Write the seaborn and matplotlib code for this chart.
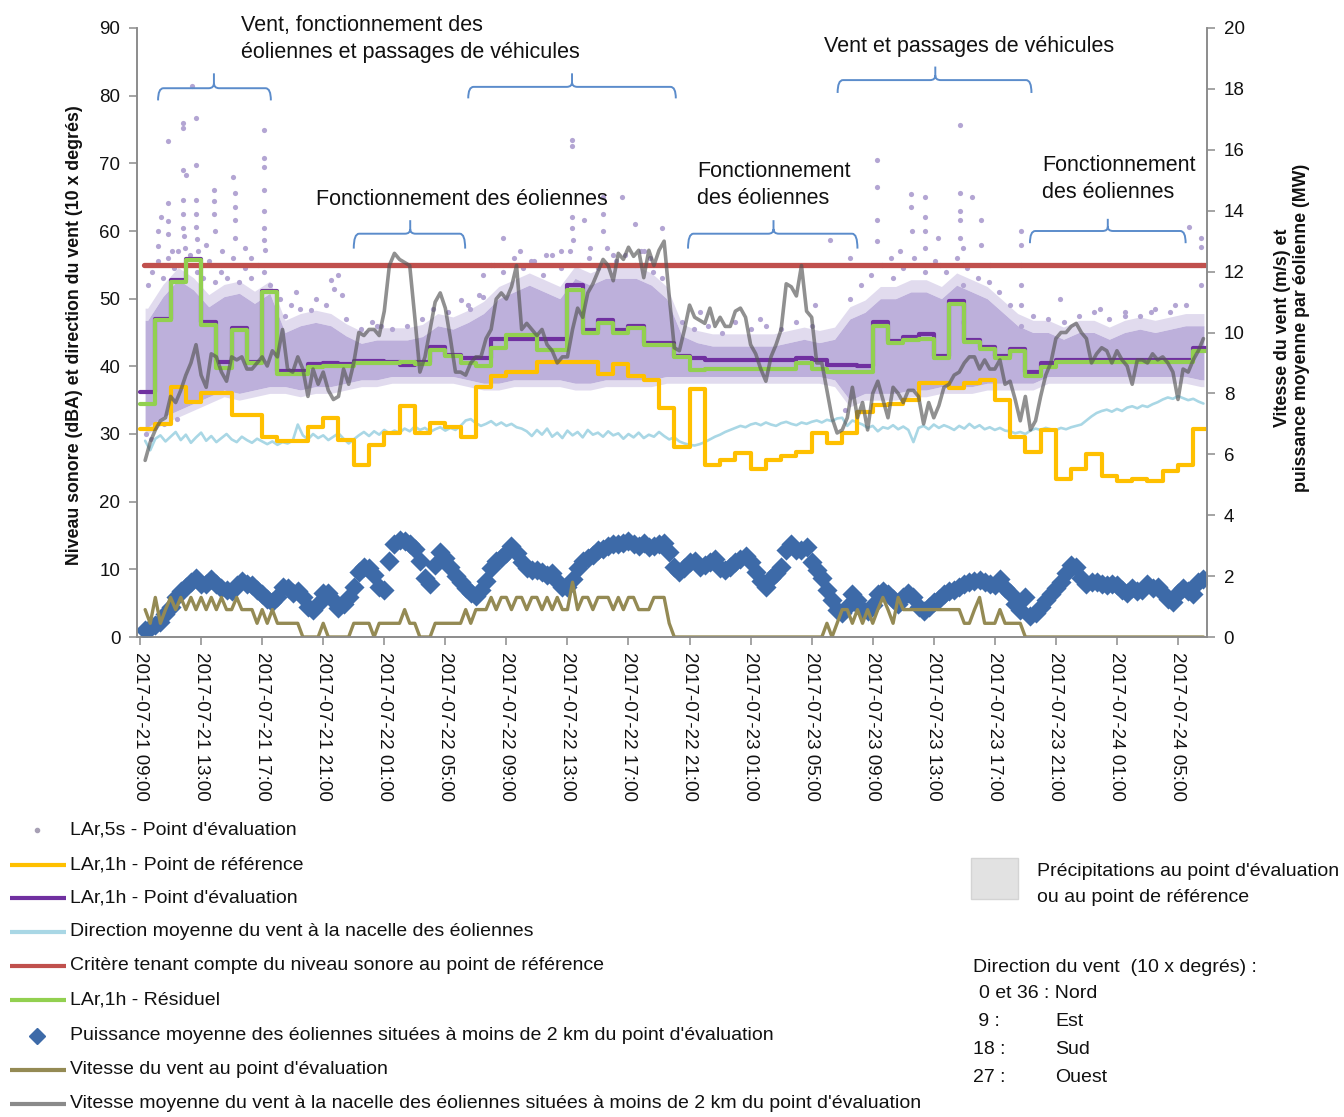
import numpy as np
import pandas as pd
import matplotlib
matplotlib.use("Agg")
import matplotlib.pyplot as plt
import matplotlib.dates as mdates
from matplotlib.path import Path
from matplotlib.patches import PathPatch, Rectangle
import seaborn as sns

sns.set_theme(style="ticks")
plt.rcParams["font.family"] = ["Liberation Sans", "DejaVu Sans"]

START = pd.Timestamp("2017-07-21 09:00")

# ---------------------------------------------------------------- hourly data
lar_ref_1h = [
    30.7, 31.5, 37.0, 34.8, 36.0, 36.0, 32.8, 32.8, 29.6, 28.9,
    28.9, 31.1, 32.3, 29.1, 25.4, 28.4, 30.1, 34.1, 30.1, 31.6,
    31.1, 29.6, 37.0, 38.5, 39.2, 39.2, 40.7, 40.7, 40.7, 40.7,
    38.8, 40.4, 38.5, 38.0, 33.8, 28.1, 36.6, 25.4, 26.2, 27.2,
    24.9, 26.2, 26.7, 27.4, 30.1, 28.6, 30.2, 33.2, 34.3, 34.5,
    35.0, 37.6, 37.6, 36.8, 37.6, 38.0, 35.0, 29.6, 27.4, 30.6,
    23.3, 24.8, 27.0, 23.8, 23.0, 23.3, 23.0, 24.6, 25.4, 30.8,
]
lar_eval_1h = [
    36.2, 47.0, 52.7, 55.8, 46.6, 40.6, 45.6, 40.6, 51.2, 39.3,
    39.3, 40.4, 40.5, 40.4, 40.8, 40.8, 40.7, 40.2, 40.7, 42.8,
    41.7, 41.2, 41.2, 44.1, 44.1, 44.1, 44.1, 44.1, 52.0, 45.4,
    46.9, 45.4, 46.0, 43.4, 43.4, 41.5, 41.2, 41.0, 41.0, 41.0,
    41.0, 41.0, 41.0, 41.2, 41.0, 40.2, 40.2, 40.0, 46.6, 43.7,
    44.4, 44.8, 41.5, 49.6, 43.9, 42.9, 41.5, 42.5, 39.2, 40.5,
    41.0, 41.0, 41.0, 41.0, 41.0, 41.0, 41.0, 41.0, 41.0, 42.7,
]
lar_resid_1h = [
    34.5, 46.8, 52.5, 55.7, 46.1, 39.7, 45.4, 40.5, 51.0, 38.8,
    38.8, 39.9, 40.0, 40.0, 40.5, 40.5, 40.5, 40.7, 40.4, 42.4,
    41.5, 40.5, 40.0, 42.7, 44.6, 44.6, 42.4, 42.4, 51.3, 44.9,
    46.4, 44.9, 45.6, 43.2, 43.2, 41.4, 39.5, 39.6, 39.6, 39.6,
    39.6, 39.6, 39.6, 40.5, 39.6, 39.2, 39.2, 39.2, 45.9, 43.4,
    43.9, 44.0, 41.2, 49.2, 43.6, 42.6, 41.2, 42.2, 38.5, 39.9,
    40.7, 40.7, 40.7, 40.7, 40.7, 40.7, 40.7, 40.7, 40.7, 42.2,
]
# spread of the 5-s samples around each hour (dense core of the cloud)
core_5s_low = [
    31.0, 32.5, 33.5, 34.5, 35.5, 36.5, 36.0, 36.5, 37.0, 37.0,
    36.5, 37.0, 37.0, 37.5, 38.0, 38.0, 38.5, 38.5, 38.5, 38.5,
    38.5, 38.0, 37.5, 37.5, 38.0, 38.0, 38.0, 38.0, 37.5, 37.5,
    38.0, 38.0, 38.0, 38.0, 38.5, 38.5, 38.5, 38.5, 38.5, 38.5,
    38.5, 38.5, 38.5, 38.5, 38.5, 38.0, 35.0, 36.0, 36.0, 36.0,
    36.5, 36.5, 37.0, 37.0, 37.0, 37.5, 37.5, 37.5, 37.5, 38.5,
    38.5, 38.5, 38.5, 38.5, 38.5, 38.5, 38.5, 38.5, 38.5, 38.0,
]
core_5s_high = [
    46.8, 50.3, 52.8, 51.3, 48.8, 50.3, 50.8, 49.3, 50.8, 45.0,
    46.0, 46.5, 46.0, 44.5, 43.4, 43.9, 43.9, 43.9, 44.4, 46.0,
    45.5, 46.5, 47.8, 50.0, 51.0, 52.0, 51.0, 50.0, 53.0, 52.0,
    53.0, 53.0, 53.0, 52.0, 50.0, 44.5, 43.5, 43.0, 43.0, 43.0,
    43.0, 43.0, 43.5, 44.0, 43.5, 44.0, 47.0, 48.0, 50.0, 50.0,
    51.0, 51.0, 50.0, 52.0, 51.0, 50.0, 48.0, 46.0, 45.0, 45.0,
    44.0, 45.0, 45.0, 44.0, 45.0, 45.5, 45.0, 45.5, 46.0, 46.0,
]
criterion_dba = 55.0

# ------------------------------------------- 20-minute data (first at 09:20)
wind_dir_10deg = [
    29.0, 27.6, 29.3, 29.8, 28.9, 29.6, 30.3, 29.1, 29.9, 28.7,
    29.5, 30.2, 29.0, 29.7, 28.8, 29.4, 30.0, 29.2, 28.8, 29.6,
    29.1, 28.7, 29.3, 28.9, 28.5, 28.9, 28.4, 28.8, 28.6, 29.0,
    31.4, 29.8, 29.2, 30.0, 29.4, 29.8, 29.1, 29.6, 30.1, 29.3,
    28.6, 29.2, 29.8, 30.3, 29.7, 30.4, 29.9, 30.6, 30.1, 30.5,
    30.2, 30.8, 30.4, 31.1, 30.6, 30.9, 30.3, 30.7, 31.0, 30.5,
    30.9, 30.6, 31.2, 32.0, 32.2, 31.6, 31.2, 31.5, 31.9, 31.3,
    31.7, 31.2, 31.5, 31.0, 30.8, 30.4, 29.7, 30.6, 29.9, 30.8,
    29.6, 30.2, 29.4, 30.5, 29.8, 30.3, 29.5, 30.6, 29.9, 30.2,
    29.6, 30.4, 29.8, 30.1, 29.3, 30.0, 29.5, 30.2, 29.4, 29.9,
    29.6, 30.3, 29.7, 29.2, 29.5, 28.9, 28.6, 28.4, 28.3, 28.5,
    28.8, 29.2, 29.6, 29.9, 30.3, 30.6, 30.9, 31.2, 31.0, 31.4,
    31.6, 31.3, 31.7, 31.4, 31.2, 31.6, 31.8, 31.5, 31.3, 31.7,
    31.5, 31.8, 32.0, 31.7, 32.1, 31.9, 32.3, 32.4, 31.2, 32.0,
    31.7, 31.4, 30.9, 31.2, 30.4, 31.0, 30.8, 31.3, 30.7, 31.1,
    30.6, 28.8, 30.9, 31.2, 30.7, 31.4, 30.9, 31.3, 31.0, 30.6,
    31.2, 30.8, 31.5, 30.9, 31.3, 30.7, 31.0, 30.6, 30.9, 30.5,
    30.4, 30.1, 30.3, 30.0, 30.5, 30.8, 30.6, 30.9, 30.7, 30.6,
    30.9, 30.7, 31.0, 31.2, 31.4, 32.0, 32.6, 33.1, 33.4, 33.6,
    33.3, 33.7, 33.4, 33.9, 34.1, 33.8, 34.2, 34.0, 34.4, 34.7,
    35.1, 35.4, 35.2, 35.6, 35.3, 35.0, 35.2, 34.8, 34.5,
]
power_mw = [
    0.22, 0.30, 0.40, 0.50, 0.75, 1.00, 1.30, 1.50, 1.65, 1.80,
    1.95, 1.75, 1.75, 1.90, 1.75, 1.60, 1.55, 1.50, 1.70, 1.85,
    1.75, 1.70, 1.55, 1.40, 1.25, 1.15, 1.30, 1.65, 1.60, 1.45,
    1.50, 1.30, 1.00, 0.90, 1.10, 1.45, 1.45, 1.20, 0.95, 1.10,
    1.30, 1.65, 2.15, 2.30, 2.25, 2.05, 1.65, 1.55, 2.50, 3.05,
    3.20, 3.15, 3.05, 2.90, 2.50, 1.95, 1.75, 2.35, 2.80, 2.60,
    2.30, 2.00, 1.80, 1.60, 1.45, 1.35, 1.55, 1.85, 2.25, 2.50,
    2.60, 2.75, 3.00, 2.75, 2.45, 2.25, 2.20, 2.20, 2.15, 2.05,
    2.10, 1.85, 1.65, 1.65, 1.90, 2.25, 2.50, 2.60, 2.70, 2.85,
    2.90, 3.00, 3.05, 3.05, 3.10, 3.15, 3.05, 3.00, 3.10, 2.95,
    3.00, 3.05, 3.10, 2.80, 2.30, 2.15, 2.25, 2.45, 2.50, 2.30,
    2.35, 2.45, 2.55, 2.25, 2.20, 2.30, 2.45, 2.55, 2.65, 2.45,
    2.15, 1.85, 1.65, 1.95, 2.10, 2.30, 2.85, 3.05, 2.85, 2.85,
    2.95, 2.45, 2.20, 1.95, 1.55, 1.20, 0.90, 0.80, 1.00, 1.40,
    1.20, 0.90, 0.85, 1.05, 1.40, 1.50, 1.40, 1.25, 1.10, 1.30,
    1.45, 1.30, 1.00, 0.85, 1.00, 1.15, 1.25, 1.40, 1.50, 1.55,
    1.65, 1.75, 1.80, 1.85, 1.87, 1.80, 1.75, 1.70, 1.90, 1.60,
    1.45, 1.10, 0.90, 1.30, 0.70, 0.80, 1.00, 1.20, 1.40, 1.60,
    1.80, 2.10, 2.35, 2.30, 1.95, 1.75, 1.80, 1.80, 1.75, 1.70,
    1.75, 1.70, 1.55, 1.45, 1.60, 1.50, 1.55, 1.75, 1.60, 1.65,
    1.45, 1.25, 1.15, 1.45, 1.60, 1.50, 1.40, 1.80, 1.90,
]
wind_eval_ms = [
    0.9, 0.45, 1.3, 0.45, 0.9, 1.3, 0.9, 1.3, 0.9, 1.3,
    0.9, 1.3, 0.9, 1.3, 0.9, 1.3, 0.9, 0.9, 1.3, 0.9,
    0.9, 0.9, 0.45, 0.9, 0.45, 0.9, 0.45, 0.45, 0.45, 0.45,
    0.45, 0.0, 0.0, 0.0, 0.0, 0.45, 0.0, 0.0, 0.0, 0.0,
    0.0, 0.45, 0.45, 0.45, 0.45, 0.0, 0.45, 0.45, 0.45, 0.45,
    0.45, 0.9, 0.45, 0.45, 0.0, 0.0, 0.0, 0.45, 0.45, 0.45,
    0.45, 0.45, 0.45, 0.9, 0.45, 0.9, 0.9, 0.9, 1.3, 0.9,
    1.3, 1.3, 0.9, 1.3, 1.3, 0.9, 1.3, 1.3, 0.9, 1.3,
    0.9, 1.3, 0.9, 0.9, 1.8, 0.9, 1.3, 1.3, 0.9, 1.3,
    1.3, 1.3, 0.9, 1.3, 0.9, 1.3, 1.3, 0.9, 0.9, 0.9,
    1.3, 1.3, 1.3, 0.45, 0.0, 0.0, 0.0, 0.0, 0.0, 0.0,
    0.0, 0.0, 0.0, 0.0, 0.0, 0.0, 0.0, 0.0, 0.0, 0.0,
    0.0, 0.0, 0.0, 0.0, 0.0, 0.0, 0.0, 0.0, 0.0, 0.0,
    0.0, 0.0, 0.0, 0.0, 0.45, 0.0, 0.45, 0.9, 0.9, 0.45,
    0.9, 0.45, 0.9, 0.45, 0.9, 1.3, 0.9, 0.45, 1.3, 0.9,
    0.9, 0.9, 0.9, 0.9, 0.9, 0.9, 0.9, 0.9, 0.9, 0.9,
    0.9, 0.45, 0.45, 0.9, 1.3, 0.45, 0.45, 0.45, 0.9, 0.45,
    0.45, 0.45, 0.45, 0.0, 0.0, 0.0, 0.0, 0.0, 0.0, 0.0,
    0.0, 0.0, 0.0, 0.0, 0.0, 0.0, 0.0, 0.0, 0.0, 0.0,
    0.0, 0.0, 0.0, 0.0, 0.0, 0.0, 0.0, 0.0, 0.0, 0.0,
    0.0, 0.0, 0.0, 0.0, 0.0, 0.0, 0.0, 0.0, 0.0,
]
wind_nacelle_ms = [
    5.8, 6.4, 6.8, 7.1, 7.2, 7.9, 7.7, 8.1, 8.6, 9.0,
    9.6, 8.6, 8.2, 9.3, 9.2, 8.7, 8.4, 9.2, 9.1, 9.2,
    8.8, 8.8, 9.0, 9.2, 8.9, 9.4, 9.2, 10.1, 8.8, 8.7,
    9.2, 8.8, 7.9, 8.8, 8.3, 8.7, 8.1, 7.8, 7.9, 8.8,
    8.3, 9.0, 10.0, 9.9, 10.1, 10.1, 9.9, 10.7, 12.2, 12.6,
    12.4, 12.3, 12.2, 10.5, 8.7, 9.2, 10.1, 11.0, 11.3, 10.8,
    9.8, 8.7, 8.7, 8.6, 9.0, 9.2, 9.2, 9.8, 10.1, 11.1,
    11.3, 11.1, 11.5, 12.2, 10.1, 10.3, 10.1, 9.9, 10.1, 9.6,
    9.4, 9.0, 9.2, 9.2, 10.1, 10.8, 10.5, 11.3, 11.6, 12.0,
    12.4, 12.2, 11.7, 12.6, 12.4, 12.8, 12.5, 12.7, 11.8, 12.7,
    12.2, 12.7, 13.0, 11.2, 9.5, 9.4, 10.1, 10.9, 10.5, 10.4,
    10.3, 10.8, 10.2, 10.5, 10.2, 10.2, 10.7, 10.8, 10.5, 9.6,
    9.3, 8.8, 8.4, 9.2, 9.6, 10.1, 11.6, 11.5, 11.2, 12.2,
    10.7, 10.5, 9.0, 9.0, 8.1, 7.2, 6.7, 6.8, 7.2, 8.2,
    7.2, 7.7, 6.8, 8.0, 8.4, 7.8, 7.2, 8.2, 8.0, 7.7,
    8.1, 8.1, 7.9, 7.0, 7.7, 7.2, 7.6, 8.2, 8.3, 8.6,
    8.7, 9.0, 9.2, 9.2, 8.8, 9.1, 8.8, 8.8, 9.1, 8.3,
    8.4, 7.8, 7.1, 7.9, 6.8, 7.1, 7.9, 8.6, 9.0, 9.8,
    10.0, 10.0, 10.2, 10.3, 10.0, 9.8, 9.0, 9.3, 9.5, 9.4,
    9.0, 9.4, 9.1, 8.9, 8.3, 9.1, 9.1, 9.0, 9.3, 9.1,
    9.2, 9.0, 8.7, 7.8, 8.8, 8.7, 9.1, 9.4, 9.8,
]

# isolated 5-s samples (hours after 09:00 on 21 July, dBA)
isolated_5s = [
    (3.4, 81.4), (1.83, 73.3), (2.81, 76.0), (2.81, 75.2), (3.66, 76.7), (8.1, 74.9),
    (8.1, 70.8), (8.1, 69.5), (8.1, 66.0), (8.1, 63.0), (8.1, 60.5), (8.15, 58.7), (8.2, 57.2),
    (2.81, 69.0), (3.0, 68.3), (2.81, 64.6), (2.81, 62.5), (2.81, 60.5), (2.9, 59.2), (2.95, 57.5),
    (3.66, 69.7), (3.66, 64.6), (3.66, 62.5), (3.66, 60.6), (3.7, 58.8), (3.8, 57.0),
    (4.84, 66.0), (4.84, 64.5), (4.84, 62.5), (4.9, 60.0),
    (6.09, 68.0), (6.2, 65.6), (6.2, 63.5), (6.2, 61.6), (6.2, 59.0),
    (1.83, 64.1), (1.83, 61.5), (1.83, 59.5), (1.18, 57.8), (1.18, 60.0), (1.35, 62.0),
    (2.1, 57.0), (4.3, 58.0), (5.4, 57.0), (6.9, 57.5), (7.3, 56.0),
    (0.5, 52.0), (0.8, 54.0), (1.2, 55.5), (1.5, 53.0), (1.8, 56.0), (2.2, 54.5),
    (2.5, 57.0), (2.9, 55.0), (3.3, 56.5), (3.7, 54.0), (4.1, 53.0), (4.5, 55.5),
    (4.9, 52.5), (5.3, 54.0), (5.7, 53.0), (6.1, 56.0), (6.5, 52.5), (6.9, 54.5),
    (7.3, 53.0), (7.7, 55.0), (8.1, 54.0), (8.5, 52.0),
    (12.5, 52.8), (12.7, 51.5), (13.2, 50.5), (13.0, 53.5), (11.2, 48.3), (9.9, 49.0),
    (15.2, 46.5), (15.8, 46.0), (21.0, 49.8), (22.5, 50.2), (21.6, 48.5), (10.2, 51.0),
    (9.2, 50.0), (9.5, 47.5), (10.5, 48.5), (11.5, 50.0), (12.2, 49.0), (13.5, 47.0),
    (14.5, 45.5), (15.5, 46.0), (16.5, 45.5), (17.5, 46.0), (18.5, 47.0), (19.2, 48.5),
    (20.2, 48.0), (21.5, 49.0), (22.2, 50.5),
    (28.3, 73.4), (28.3, 72.5), (23.8, 59.0), (28.3, 62.0), (28.3, 60.5), (28.35, 58.7),
    (29.1, 61.6), (30.3, 65.0), (30.3, 62.5), (30.3, 60.0), (31.6, 65.0), (32.4, 61.0),
    (34.2, 60.5), (24.9, 57.0), (26.6, 56.5), (27.6, 57.0), (29.5, 57.5), (31.0, 56.5),
    (32.8, 57.0), (33.4, 56.0), (23.0, 55.0), (25.6, 55.5),
    (22.5, 53.5), (23.2, 55.0), (23.8, 54.0), (24.5, 56.0), (25.1, 54.5), (25.8, 55.5),
    (26.4, 53.5), (27.0, 56.5), (27.6, 54.5), (28.2, 57.0), (28.8, 55.0), (29.4, 56.0),
    (30.0, 54.5), (30.6, 57.5), (31.2, 55.5), (31.8, 56.5), (32.4, 55.0), (33.0, 57.0),
    (33.6, 54.0), (34.2, 53.0),
    (45.2, 58.7), (36.7, 48.0), (40.6, 47.0), (44.2, 49.0), (35.5, 46.5), (36.3, 45.5),
    (37.2, 46.0), (38.1, 45.0), (39.0, 46.5), (40.0, 45.5), (41.0, 46.0), (42.0, 45.5),
    (43.0, 46.5), (44.0, 46.0),
    (48.3, 70.5), (48.3, 66.5), (48.3, 61.6), (48.3, 58.5), (50.5, 65.5), (50.5, 63.5),
    (50.6, 60.0), (51.4, 65.0), (51.4, 62.0), (51.4, 60.0), (51.4, 57.5), (52.3, 59.0),
    (53.7, 75.7), (53.7, 65.6), (53.7, 63.0), (53.7, 61.6), (53.7, 59.0), (54.5, 65.0),
    (55.1, 61.6), (55.1, 58.0), (57.7, 60.0), (57.7, 58.0), (57.7, 55.0), (57.7, 52.0),
    (57.7, 49.0), (57.7, 46.0), (53.9, 57.5), (53.9, 55.0), (53.9, 52.0), (53.9, 49.0),
    (53.9, 46.5), (49.2, 56.0), (49.8, 57.0), (52.4, 55.0), (55.7, 55.0), (46.5, 56.0),
    (46.5, 50.0), (47.2, 52.0), (47.9, 53.5), (48.6, 55.0), (49.3, 53.0), (50.0, 54.5),
    (50.7, 56.0), (51.4, 54.0), (52.1, 55.5), (52.8, 54.0), (53.5, 56.0), (54.2, 54.5),
    (54.9, 53.0), (55.6, 52.5), (56.3, 51.0), (57.0, 49.0),
    (68.7, 60.6), (69.5, 59.0), (69.5, 57.6), (69.5, 55.0), (69.5, 52.0), (60.3, 50.0),
    (62.9, 48.5), (66.2, 48.0), (67.8, 49.0), (64.5, 47.5),
    (58.5, 47.5), (59.5, 47.0), (60.5, 46.5), (61.5, 47.5), (62.5, 48.0), (63.5, 47.0),
    (64.5, 48.0), (65.5, 47.5), (66.5, 48.5), (67.5, 48.0), (68.5, 49.0),
    (0.4, 30.0), (0.7, 29.2), (1.0, 31.0), (1.6, 31.5), (2.4, 32.2), (46.2, 33.5),
]

# ------------------------------------------------------------------- colours
C_DOT = "#bdb0db"
C_REF = "#ffc000"
C_EVAL = "#7030a0"
C_DIR = "#a9d7e5"
C_CRIT = "#c0504d"
C_RESID = "#92d050"
C_POWER = "#3d6aa8"
C_WIND = "#948a54"
C_NACELLE = "#555555"
C_BRACE = "#5b8ccb"
C_AXIS = "#8c8c8c"


def at_hours(h):
    return START + pd.to_timedelta(np.asarray(h, dtype=float), unit="h")


hour_edges = at_hours(np.arange(len(lar_ref_1h) + 1))
t20 = START + pd.to_timedelta(20 * (np.arange(len(power_mw)) + 1), unit="min")


def step_frame(values):
    return pd.DataFrame({"t": hour_edges, "v": list(values) + [values[-1]]})


fig = plt.figure(figsize=(13.44, 11.17), dpi=100)
ax = fig.add_axes([137 / 1344, 1 - 637 / 1117, 1070 / 1344, 609 / 1117])
ax2 = ax.twinx()

# dense 5-s cloud (with a softer fringe) and isolated samples
centres = at_hours(np.r_[0.33, np.arange(len(core_5s_low)) + 0.5, 69.7])
lo = np.r_[core_5s_low[0], core_5s_low, core_5s_low[-1]]
hi = np.r_[core_5s_high[0], core_5s_high, core_5s_high[-1]]
ax.fill_between(centres, lo, hi, color=C_DOT, linewidth=0, zorder=1)
ax.fill_between(centres, hi, hi + 1.8, color=C_DOT, alpha=0.45, linewidth=0, zorder=1)
ax.fill_between(centres, lo - 1.0, lo, color=C_DOT, alpha=0.45, linewidth=0, zorder=1)
iso = pd.DataFrame(isolated_5s, columns=["h", "dba"])
iso["t"] = at_hours(iso["h"])
sns.scatterplot(data=iso, x="t", y="dba", ax=ax, s=14, color="#b3a5d3",
                linewidth=0, zorder=1.5)

dir_df = pd.DataFrame({"t": t20[:len(wind_dir_10deg)], "v": wind_dir_10deg})
sns.lineplot(data=dir_df, x="t", y="v", ax=ax, color=C_DIR, linewidth=1.9,
             estimator=None, zorder=2)
sns.lineplot(data=step_frame(lar_ref_1h), x="t", y="v", ax=ax, color=C_REF,
             linewidth=3.0, drawstyle="steps-post", estimator=None, zorder=3)
sns.lineplot(data=step_frame(lar_eval_1h), x="t", y="v", ax=ax, color=C_EVAL,
             linewidth=3.0, drawstyle="steps-post", estimator=None, zorder=4)
crit_df = pd.DataFrame({"t": at_hours([0.25, 69.8]), "v": [criterion_dba] * 2})
sns.lineplot(data=crit_df, x="t", y="v", ax=ax, color=C_CRIT, linewidth=3.8,
             estimator=None, zorder=4.5)
sns.lineplot(data=step_frame(lar_resid_1h), x="t", y="v", ax=ax, color=C_RESID,
             linewidth=3.0, drawstyle="steps-post", estimator=None, zorder=5)

# right axis: power, wind speeds
pw_df = pd.DataFrame({"t": t20, "v": power_mw})
sns.scatterplot(data=pw_df, x="t", y="v", ax=ax2, marker="D", s=105,
                color=C_POWER, linewidth=0, zorder=1)
we_df = pd.DataFrame({"t": t20[:len(wind_eval_ms)], "v": wind_eval_ms})
sns.lineplot(data=we_df, x="t", y="v", ax=ax2, color=C_WIND, linewidth=2.4,
             estimator=None, zorder=2)
wn_df = pd.DataFrame({"t": t20[:len(wind_nacelle_ms)], "v": wind_nacelle_ms})
sns.lineplot(data=wn_df, x="t", y="v", ax=ax2, color=C_NACELLE, linewidth=2.6,
             alpha=0.65, estimator=None, zorder=3)

# axes styling
ax.set_xlim(START - pd.Timedelta(minutes=12), START + pd.Timedelta(hours=69.9))
ax.set_ylim(0, 90)
ax2.set_ylim(0, 20)
ax.set_yticks(range(0, 91, 10))
ax2.set_yticks(range(0, 21, 2))
ax.xaxis.set_major_locator(mdates.HourLocator(byhour=[1, 5, 9, 13, 17, 21]))
ax.xaxis.set_major_formatter(mdates.DateFormatter("%Y-%m-%d %H:%M"))
ax.set_xlabel("")
ax.set_ylabel("")
ax2.set_ylabel("")
for a in (ax, ax2):
    a.spines["top"].set_visible(False)
    for s in ("left", "right", "bottom"):
        a.spines[s].set_color(C_AXIS)
        a.spines[s].set_linewidth(1.2)
    a.tick_params(axis="both", colors=C_AXIS, labelcolor="#111111",
                  labelsize=13.5, length=6, width=1.1)
ax.tick_params(axis="x", labelrotation=-90, pad=5)
for lab in ax.get_xticklabels():
    lab.set_ha("center")
    lab.set_va("top")
ax.tick_params(axis="y", pad=6)
ax2.tick_params(axis="y", pad=6)

fig.text(75 / 1344, 1 - 335 / 1117,
         "Niveau sonore (dBA) et direction du vent (10 x degrés)",
         rotation=90, ha="center", va="center", fontsize=12.8,
         fontweight="bold", color="#111111")
fig.text(1292 / 1344, 1 - 328 / 1117,
         "Vitesse du vent (m/s) et\npuissance moyenne par éolienne (MW)",
         rotation=90, ha="center", va="center", fontsize=12.8,
         fontweight="bold", color="#111111", multialignment="center",
         linespacing=1.1)


# curly braces marking periods
def brace(h_left, h_right, h_tip, y_line, y_end, y_tip):
    xl, xr, xt = mdates.date2num(at_hours([h_left, h_right, h_tip]))
    r = 0.35 / 24
    dy = (y_tip - y_line) * 0.35
    verts = [
        (xl, y_end), (xl, y_line), (xl + r, y_line),
        (xt - r, y_line), (xt, y_line), (xt, y_line + dy), (xt, y_tip),
        (xt, y_line + dy), (xt, y_line), (xt + r, y_line),
        (xr - r, y_line), (xr, y_line), (xr, y_end),
    ]
    codes = [Path.MOVETO, Path.CURVE3, Path.CURVE3,
             Path.LINETO, Path.CURVE3, Path.CURVE3, Path.LINETO,
             Path.MOVETO, Path.CURVE3, Path.CURVE3,
             Path.LINETO, Path.CURVE3, Path.CURVE3]
    ax.add_patch(PathPatch(Path(verts, codes), fill=False, edgecolor=C_BRACE,
                           linewidth=1.4, clip_on=False, zorder=6))


brace(1.18, 8.57, 4.84, 81.1, 79.3, 83.3)
brace(21.5, 35.1, 28.3, 81.3, 79.6, 83.3)
brace(14.0, 21.3, 17.7, 59.6, 57.4, 61.6)
brace(35.9, 47.0, 41.5, 59.6, 57.4, 61.6)
brace(45.7, 58.4, 52.1, 82.3, 80.4, 84.3)
brace(58.3, 68.5, 63.4, 60.0, 58.2, 61.8)

note_kw = dict(fontsize=15.5, color="#111111", clip_on=False, zorder=7)


def x_of(h):
    return mdates.date2num(at_hours(h))


ax.text(x_of(6.6), 88.4, "Vent, fonctionnement des\néoliennes et passages de véhicules",
        ha="left", va="center", linespacing=1.4, **note_kw)
ax.text(x_of(21.1), 64.6, "Fonctionnement des éoliennes",
        ha="center", va="center", **note_kw)
ax.text(x_of(36.5), 66.8, "Fonctionnement\ndes éoliennes",
        ha="left", va="center", linespacing=1.35, **note_kw)
ax.text(x_of(54.3), 87.2, "Vent et passages de véhicules",
        ha="center", va="center", **note_kw)
ax.text(x_of(59.1), 67.7, "Fonctionnement\ndes éoliennes",
        ha="left", va="center", linespacing=1.35, **note_kw)

# legend block below the chart (pixel coordinates)
lax = fig.add_axes([0, 0, 1, 1], facecolor="none")
lax.set_xlim(0, 1344)
lax.set_ylim(1117, 0)
lax.axis("off")

legend_rows = [
    ("dot", "#a7a0b5", 830, "LAr,5s - Point d'évaluation"),
    ("line", C_REF, 865, "LAr,1h - Point de référence"),
    ("line", C_EVAL, 898, "LAr,1h - Point d'évaluation"),
    ("line", C_DIR, 932, "Direction moyenne du vent à la nacelle des éoliennes"),
    ("line", C_CRIT, 966, "Critère tenant compte du niveau sonore au point de référence"),
    ("line", C_RESID, 1000, "LAr,1h - Résiduel"),
    ("diamond", C_POWER, 1036,
     "Puissance moyenne des éoliennes situées à moins de 2 km du point d'évaluation"),
    ("line", C_WIND, 1070, "Vitesse du vent au point d'évaluation"),
    ("line", "#8a8a8a", 1104,
     "Vitesse moyenne du vent à la nacelle des éoliennes situées à moins de 2 km du point d'évaluation"),
]
for kind, col, y, label in legend_rows:
    if kind == "line":
        lax.plot([10, 66], [y, y], color=col, linewidth=3.0, solid_capstyle="butt")
    elif kind == "dot":
        lax.plot([37], [y], marker="o", markersize=3, color=col, linestyle="none")
    else:
        lax.plot([37], [y], marker="D", markersize=8, color=col, linestyle="none")
    lax.text(70, y, label, ha="left", va="center", fontsize=14, color="#111111")

lax.add_patch(Rectangle((971, 858), 47, 41, facecolor="#e2e2e2",
                        edgecolor="#d4d4d4", linewidth=1))
lax.text(1037, 872, "Précipitations au point d'évaluation", ha="left",
         va="center", fontsize=14, color="#111111")
lax.text(1037, 898, "ou au point de référence", ha="left", va="center",
         fontsize=14, color="#111111")
lax.text(973, 968, "Direction du vent  (10 x degrés) :", ha="left",
         va="center", fontsize=14, color="#111111")
lax.text(979, 994, "0 et 36 : Nord", ha="left", va="center", fontsize=14,
         color="#111111")
for y, num, name in [(1022, " 9 :", "Est"), (1050, "18 :", "Sud"),
                     (1078, "27 :", "Ouest")]:
    lax.text(973, y, num, ha="left", va="center", fontsize=14, color="#111111")
    lax.text(1055, y, name, ha="left", va="center", fontsize=14, color="#111111")

fig.savefig("out.png", dpi=100)
